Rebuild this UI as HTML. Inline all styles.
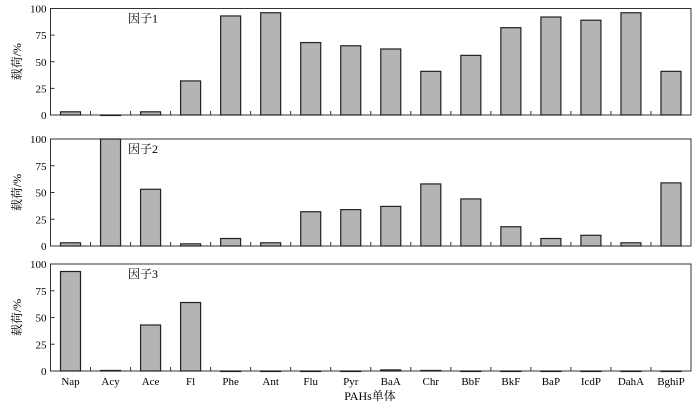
<!DOCTYPE html>
<html><head><meta charset="utf-8"><style>
body{margin:0;background:#fff;}
svg text{font-family:"Liberation Serif","Noto Serif CJK SC",serif;fill:#000;}
</style></head><body>
<svg id="chart" width="700" height="406" xmlns="http://www.w3.org/2000/svg"></svg>
<script>
const categories=["Nap","Acy","Ace","Fl","Phe","Ant","Flu","Pyr","BaA","Chr","BbF","BkF","BaP","IcdP","DahA","BghiP"];
const factor1=[3,0,3,32,93,96,68,65,62,41,56,82,92,89,96,41];
const factor2=[3,100,53,2,7,3,32,34,37,58,44,18,7,10,3,59];
const factor3=[93,0.5,43,64,0,0,0,0,1,0.5,0,0,0,0,0,0];
const yTicks=[0,25,50,75,100];
const panelLabels=["因子1","因子2","因子3"];
const series=[factor1,factor2,factor3];
const NS="http://www.w3.org/2000/svg";
const svg=document.getElementById('chart');
const L=50.5,R=691,panels=[[8.5,115],[139,246],[264,371]];
const bw=(R-L)/categories.length;
function mk(t,a,p){const e=document.createElementNS(NS,t);for(const k in a)e.setAttribute(k,a[k]);(p||svg).appendChild(e);return e;}
series.forEach((vals,pi)=>{
  const [top,bot]=panels[pi];
  const y=v=>bot-(v/100)*(bot-top);
  const g=mk('g',{});
  
  
  const fr=mk('rect',{x:L,y:top,width:R-L,height:bot-top,fill:'none',stroke:'#333','stroke-width':1},g);
  
  
  yTicks.forEach(t=>{
    const tl=mk('text',{x:L-4,y:y(t)+4,'text-anchor':'end','font-size':11},g);
    tl.textContent=t;
    
    
    mk('line',{x1:L,x2:L+4,y1:y(t),y2:y(t),stroke:'#333'},g);
  });
  for(let i=1;i<categories.length;i++){
    const x=L+i*bw;
    mk('line',{x1:x,x2:x,y1:bot,y2:bot-4,stroke:'#333'},g);
  }
  vals.forEach((v,i)=>{
    const x=L+i*bw+bw/2-10;
    const b=mk('rect',{x:x,y:y(v),width:20,height:Math.max(bot-y(v),0.5),fill:'#b4b4b4',stroke:'#222','stroke-width':1.2},g);
    
    
  });
  const lab=mk('text',{x:128,y:top+14,'font-size':12},g);
  lab.textContent=panelLabels[pi];
  
  
  const yt=mk('text',{x:0,y:0,'font-size':12,'text-anchor':'middle',transform:`translate(21,${(top+bot)/2}) rotate(-90)`},g);
  yt.textContent='载荷/%';
  
  
});
categories.forEach((c,i)=>{
  const t=mk('text',{x:L+i*bw+bw/2,y:385,'text-anchor':'middle','font-size':11});
  t.textContent=c;
  
  
});
const xt=mk('text',{x:370,y:400,'text-anchor':'middle','font-size':12});
xt.textContent='PAHs单体';


</script>
</body></html>
